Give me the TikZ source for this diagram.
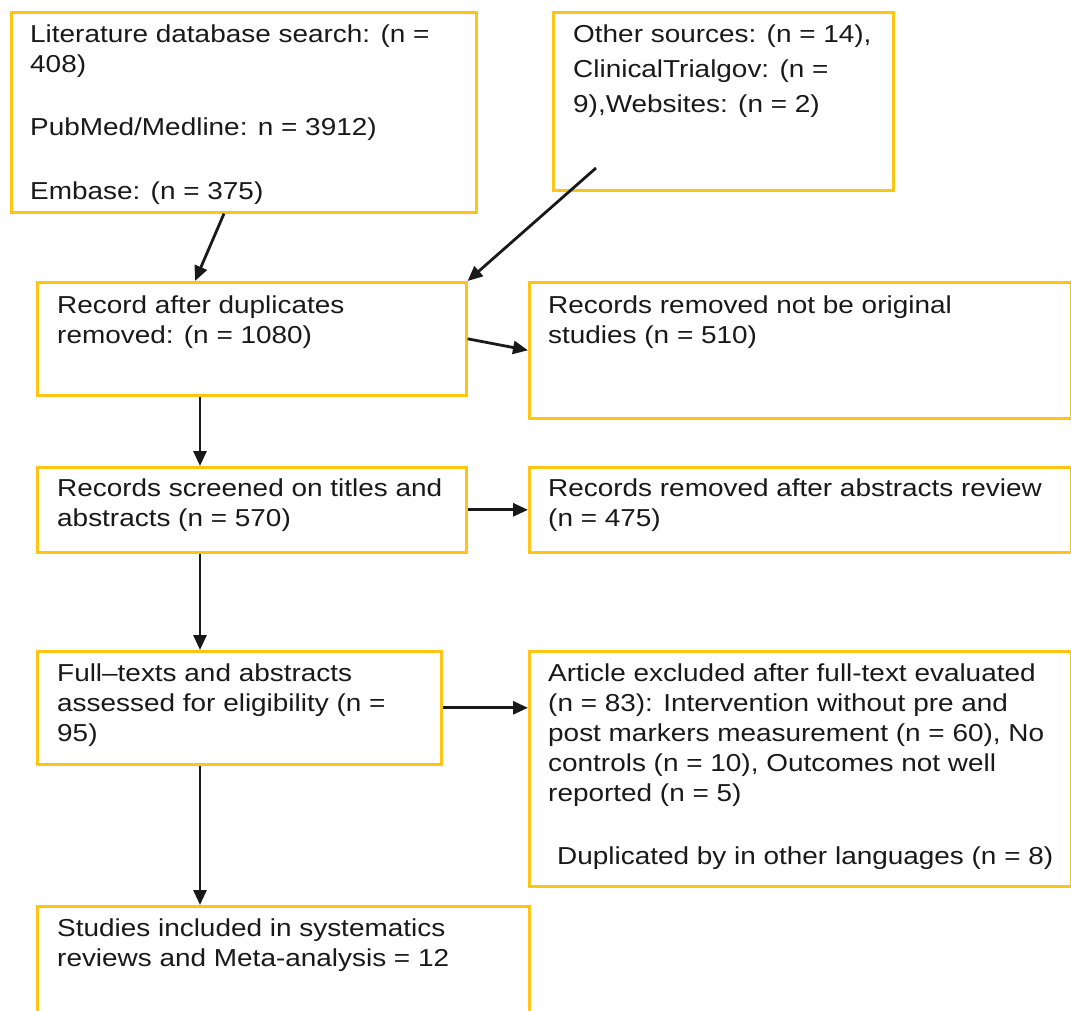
\documentclass[tikz,border=0pt]{standalone}
\usepackage{fontspec}
\setmainfont[FakeStretch=1.14]{Liberation Sans}
\usetikzlibrary{arrows.meta,calc}
\definecolor{boxgold}{RGB}{255,196,20}
\definecolor{txtgray}{RGB}{25,25,25}
\tikzset{
  box/.style={draw=boxgold, line width=2.6pt, rectangle, anchor=north west, inner sep=0pt},
  txt/.style={anchor=base west, inner sep=0pt, align=left, text=txtgray,
              font=\fontsize{24.5}{30}\selectfont},
  arr/.style={draw=black!90, line width=2.8pt, -{Triangle[length=15pt,width=13pt]}}
}
\begin{document}
\begin{tikzpicture}[x=1pt,y=1pt]
\useasboundingbox (0,0) rectangle (1071,-1010);
% boxes
\node[box, minimum width=465, minimum height=200] (lit) at (10,-11) {};
\node[box, minimum width=340, minimum height=178] (oth) at (552,-11) {};
\node[box, minimum width=429, minimum height=113] (rec) at (36,-281) {};
\node[box, minimum width=542, minimum height=136] (rem1) at (528,-281) {};
\node[box, minimum width=429, minimum height=85] (scr) at (36,-466) {};
\node[box, minimum width=542, minimum height=85] (rem2) at (528,-466) {};
\node[box, minimum width=404, minimum height=113] (full) at (36,-650) {};
\node[box, minimum width=542, minimum height=235] (exc) at (528,-650) {};
\node[box, minimum width=492, minimum height=160] (stu) at (36,-905) {};
% texts (anchored at the baseline of their last line)
\node[txt] (tlit) at (30,-199.5) {Literature database search: (n =\\ 408)\\[33pt]PubMed/Medline: n = 3912)\\[34pt]Embase: (n = 375)};
\node[txt] (toth) at (573,-112.5) {Other sources: (n = 14),\\[5pt]ClinicalTrialgov: (n =\\[5pt]9),Websites: (n = 2)};
\node[txt] (trec) at (57,-343) {Record after duplicates\\removed: (n = 1080)};
\node[txt] (trem1) at (548,-343) {Records removed not be original\\studies (n = 510)};
\node[txt] (tscr) at (57,-526) {Records screened on titles and\\abstracts (n = 570)};
\node[txt] (trem2) at (548,-526) {Records removed after abstracts review\\(n = 475)};
\node[txt] (tfull) at (57,-741) {Full–texts and abstracts\\assessed for eligibility (n =\\95)};
\node[txt] (texc) at (548,-801) {Article excluded after full-text evaluated\\(n = 83): Intervention without pre and\\post markers measurement (n = 60), No\\controls (n = 10), Outcomes not well\\reported (n = 5)};
\node[txt] (texc2) at (557,-864) {Duplicated by in other languages (n = 8)};
\node[txt] (tstu) at (57,-966) {Studies included in systematics\\reviews and Meta-analysis = 12};
% connectors
\coordinate (os) at (596,-168);
\draw[arr] ($(lit.south west)+(214,0)$) -- ($(rec.north west)+(159,0)$);
\draw[arr] (os) -- (rec.north east);
\draw[arr] (rec.east) -- (rem1.west);
\draw[arr] ($(rec.south west)+(164,0)$) -- ($(scr.north west)+(164,0)$);
\draw[arr] (scr.east) -- (rem2.west);
\draw[arr] ($(scr.south west)+(164,0)$) -- ($(full.north west)+(164,0)$);
\draw[arr] (full.east) -- (exc.west |- full.east);
\draw[arr] ($(full.south west)+(164,0)$) -- ($(stu.north west)+(164,0)$);
\end{tikzpicture}
\end{document}
